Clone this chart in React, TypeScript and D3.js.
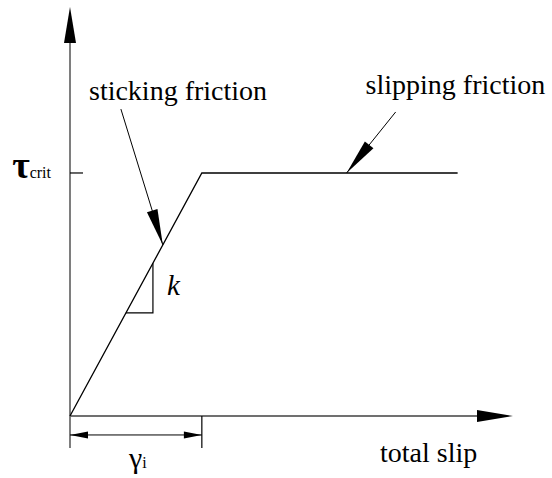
import React from "react";
import * as d3 from "d3";

// ---- data (in model units: slip γ / γi, stress τ / τcrit) ----
const slipPoints = [0, 1, 2.94];
const stressPoints = [0, 1, 1];
const axisExtent = { slip: 3.36, stress: 1.683 };
const tickLabels = ["τ", "crit"];
const gammaLabel = ["γ", "i"];
const xAxisTitle = "total slip";
const slopeLabel = "k";
const slopeTriangle = [0.424, 0.629];
const stickingLeader = { text: "sticking friction", tx: 0.144, ty: 1.3, x0: 0.386, y0: 1.263, x1: 0.704, y1: 0.704 };
const slippingLeader = { text: "slipping friction", tx: 2.242, ty: 1.325, x0: 2.47, y0: 1.251, x1: 2.098, y1: 1.0 };

const W = 552;
const H = 478;

export default function App() {
  const x = d3.scaleLinear().domain([0, axisExtent.slip]).range([70, 513]);
  const y = d3.scaleLinear().domain([0, axisExtent.stress]).range([416, 7]);

  const line = d3
    .line<number>()
    .x((_, i) => x(slipPoints[i]))
    .y((d) => y(d));

  const axisColor = "#707070";

  const head = (fx: number, fy: number, tx: number, ty: number, len: number, hw: number) => {
    const dx = tx - fx;
    const dy = ty - fy;
    const L = Math.hypot(dx, dy);
    const ux = dx / L;
    const uy = dy / L;
    const bx = tx - ux * len;
    const by = ty - uy * len;
    const px = -uy * hw;
    const py = ux * hw;
    return `${tx},${ty} ${bx + px},${by + py} ${bx - px},${by - py}`;
  };

  const ox = x(0);
  const oy = y(0);
  const dimY = y(-0.078);
  const dimExt = y(-0.132);
  const tauY = y(1);

  const leaders = [stickingLeader, slippingLeader];
  const ff = "Liberation Serif";

  return (
    <svg width={W} height={H} style={{ position: "absolute", left: 0, top: 0 }}>
      {/* axes */}
      <line x1={ox} y1={dimExt} x2={ox} y2={y(axisExtent.stress) + 30} stroke={axisColor} strokeWidth={1.8} />
      <polygon points={head(ox, oy, ox, y(axisExtent.stress), 36, 6)} fill="#000" />
      <line x1={ox} y1={oy} x2={x(axisExtent.slip) - 30} y2={oy} stroke={axisColor} strokeWidth={1.8} />
      <polygon points={head(ox, oy, x(axisExtent.slip), oy, 36, 6)} fill="#000" />

      {/* tau crit tick */}
      <line x1={ox} y1={tauY} x2={ox + 13} y2={tauY} stroke="#000" strokeWidth={1.2} />
      <text x={51} y={178} textAnchor="end" fontSize={16} style={{ fontFamily: ff }}>
        <tspan fontSize={38} fontWeight="bold">{tickLabels[0]}</tspan>
        <tspan>{tickLabels[1]}</tspan>
      </text>

      {/* curve */}
      <path d={line(stressPoints) || ""} fill="none" stroke="#000" strokeWidth={1.3} />

      {/* slope triangle */}
      <polyline
        points={`${x(slopeTriangle[0])},${y(slopeTriangle[0])} ${x(slopeTriangle[1])},${y(slopeTriangle[0])} ${x(slopeTriangle[1])},${y(slopeTriangle[1])}`}
        fill="none"
        stroke="#000"
        strokeWidth={1.2}
      />
      <text x={x(0.735)} y={y(0.498)} fontSize={29} style={{ fontFamily: ff, fontStyle: "italic" }}>
        {slopeLabel}
      </text>

      {/* leaders */}
      {leaders.map((l, i) => (
        <g key={i}>
          <line x1={x(l.x0)} y1={y(l.y0)} x2={x(l.x1)} y2={y(l.y1)} stroke="#000" strokeWidth={1} />
          <polygon points={head(x(l.x0), y(l.y0), x(l.x1), y(l.y1), 36, 5.5)} fill="#000" />
          <text x={x(l.tx)} y={y(l.ty)} fontSize={28} style={{ fontFamily: ff }}>
            {l.text}
          </text>
        </g>
      ))}

      {/* gamma_i dimension */}
      <line x1={x(1)} y1={oy} x2={x(1)} y2={dimExt} stroke="#000" strokeWidth={1.2} />
      <line x1={ox} y1={dimY} x2={x(1)} y2={dimY} stroke="#000" strokeWidth={1} />
      <polygon points={head(x(1), dimY, ox, dimY, 18, 3.5)} fill="#000" />
      <polygon points={head(ox, dimY, x(1), dimY, 18, 3.5)} fill="#000" />
      <text x={x(0.515)} y={468} textAnchor="middle" fontSize={16} style={{ fontFamily: ff }}>
        <tspan fontSize={30}>{gammaLabel[0]}</tspan>
        <tspan>{gammaLabel[1]}</tspan>
      </text>

      {/* x axis title */}
      <text x={380} y={462} fontSize={28} style={{ fontFamily: ff }}>
        {xAxisTitle}
      </text>
    </svg>
  );
}
